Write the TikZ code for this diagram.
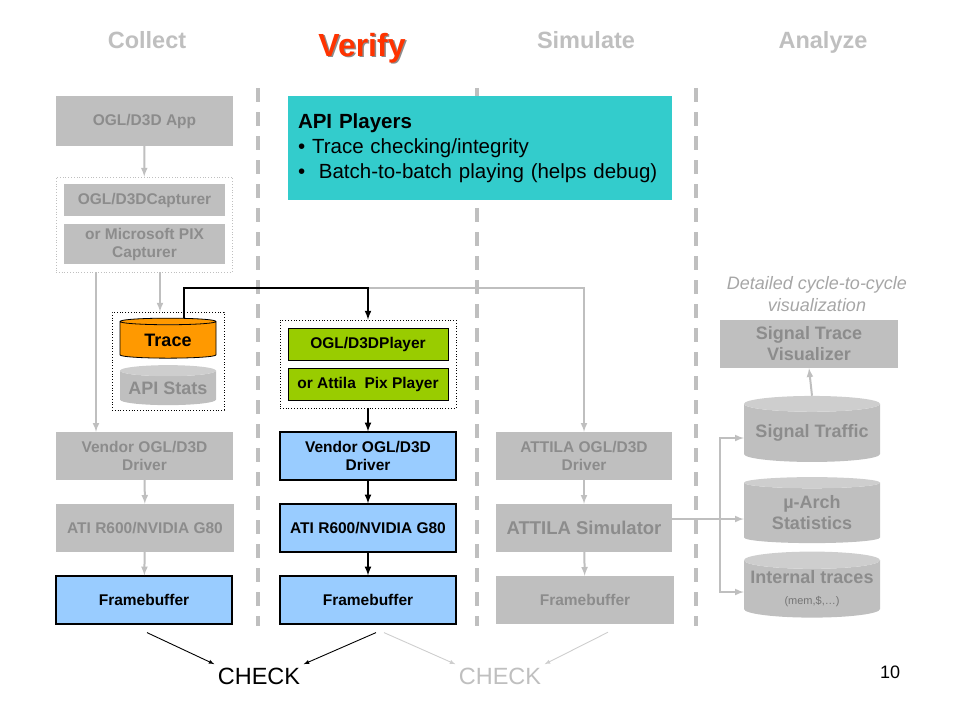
\documentclass[tikz,border=0pt]{standalone}
\usepackage{fontspec}
\setmainfont{Liberation Sans}
\usetikzlibrary{arrows,calc,positioning,shapes.geometric}
\definecolor{boxgrey}{RGB}{191,191,191}
\definecolor{endgrey}{RGB}{206,206,206}
\definecolor{txtgrey}{RGB}{140,140,140}
\definecolor{linegrey}{RGB}{191,191,191}
\definecolor{notegrey}{RGB}{166,166,166}
\definecolor{ogreen}{RGB}{153,204,0}
\definecolor{lblue}{RGB}{153,204,255}
\definecolor{tealbox}{RGB}{51,204,204}
\definecolor{tracefill}{RGB}{255,153,0}
\definecolor{verifyred}{RGB}{255,51,0}
\tikzset{%
	stage/.style    = {rectangle, minimum width=176, minimum height=48, inner sep=2, align=center, font=\bfseries\fontsize{15.5}{18}\selectfont},
	greybox/.style  = {stage, fill=boxgrey, text=txtgrey},
	bluebox/.style  = {stage, fill=lblue, draw=black, line width=1.2},
	greenbox/.style = {stage, fill=ogreen, draw=black, line width=0.8, minimum width=160, minimum height=32},
	dotbox/.style   = {rectangle, draw=black, dotted, line width=0.8, inner sep=0},
	drum/.style     = {cylinder, shape border rotate=90, aspect=0.14, inner sep=0, align=center, cylinder uses custom fill, cylinder body fill=boxgrey, cylinder end fill=endgrey, text=txtgrey, font=\bfseries\fontsize{18}{21}\selectfont},
	header/.style   = {anchor=base, text=boxgrey, font=\bfseries\fontsize{23.5}{26}\selectfont},
	sep/.style      = {draw=linegrey, line width=4, dash pattern=on 14 off 10},
	greyarrow/.style  = {draw=linegrey, line width=2, -latex},
	blackarrow/.style = {draw=black, line width=2, -latex},
	checkarrow/.style = {line width=0.9, -latex},
}
\begin{document}
\begin{tikzpicture}[x=1pt,y=1pt]
	\useasboundingbox (0,0) rectangle (960,-720);
	
	% column separators
	\foreach \x in {258,477,696}
		\draw[sep] (\x,-88) -- (\x,-626);
	
	% headers
	\node[header] (hcollect) at (147,-48) {Collect};
	\node[anchor=base, text=black!45, font=\bfseries\fontsize{32}{36}\selectfont] (hverifyshadow) at (363.5,-57.5) {Verify};
	\node[anchor=base, text=verifyred, font=\bfseries\fontsize{32}{36}\selectfont] (hverify) at (362,-56) {Verify};
	\node[header] (hsimulate) at (586,-48) {Simulate};
	\node[header] (hanalyze) at (823,-48) {Analyze};
	
	% Collect
	\node[greybox, minimum width=177, minimum height=50] (app) at (144.5,-121) {OGL/D3D App};
	\node[dotbox, draw=boxgrey, minimum width=176, minimum height=95] (capbox) at (144,-224.5) {};
	\node[greybox, minimum width=161, minimum height=32] (capogl) at (144.5,-200) {OGL/D3DCapturer};
	\node[greybox, minimum width=161, minimum height=40] (cappix) at (144.5,-244) {or Microsoft PIX\\Capturer};
	\node[dotbox, minimum width=112, minimum height=98] (tracebox) at (168,-361) {};
	\node[drum, draw=black, line width=0.8, cylinder body fill=tracefill, cylinder end fill=tracefill, text=black, minimum width=96, minimum height=40] (trace) at (168,-340) {Trace};
	\node[drum, minimum width=96, minimum height=40] (apistats) at (168,-388) {API Stats};
	\node[greybox, minimum width=177] (cvendor) at (144.5,-456) {Vendor OGL/D3D\\Driver};
	\node[greybox, minimum width=178] (cati) at (145,-528) {ATI R600/NVIDIA G80};
	\node[bluebox] (cfb) at (144,-600) {Framebuffer};
	
	\draw[greyarrow] (app) -- (capbox);
	\draw[greyarrow] ([xshift=16]capbox.south) -- ([xshift=-8]tracebox.north);
	\draw[greyarrow] ([xshift=-48]capbox.south) -- ([xshift=-48]capbox.south |- cvendor.north);
	\draw[greyarrow] (cvendor) -- (cati);
	\draw[greyarrow] (cati) -- (cfb);
	
	% Verify
	\node[fill=tealbox, minimum width=384, minimum height=104, text width=364, inner xsep=10, inner ysep=4, align=left, font=\fontsize{20.5}{25}\selectfont] (players) at (480,-148)
		{\textbf{API Players}\\• Trace checking/integrity\\•\ \ Batch-to-batch playing (helps debug)};
	\node[dotbox, minimum width=176, minimum height=88] (playbox) at (368,-364) {};
	\node[greenbox] (playogl) at (368,-344) {OGL/D3DPlayer};
	\node[greenbox] (playpix) at (368,-384) {or Attila\ \ Pix Player};
	\node[bluebox] (vvendor) at (368,-456) {Vendor OGL/D3D\\Driver};
	\node[bluebox] (vati) at (368,-528) {ATI R600/NVIDIA G80};
	\node[bluebox] (vfb) at (368,-600) {Framebuffer};
	
	% Simulate
	\node[greybox] (sdriver) at (584,-456) {ATTILA OGL/D3D\\Driver};
	\node[greybox, font=\bfseries\fontsize{18.5}{21}\selectfont] (ssim) at (584,-528) {ATTILA Simulator};
	\node[greybox, minimum width=178] (sfb) at (585,-600) {Framebuffer};
	
	\draw[greyarrow] ([yshift=32]playbox.north) -| (sdriver.north);
	\draw[blackarrow] ([xshift=16]trace.north) |- ([yshift=32]playbox.north) -- (playbox.north);
	\draw[blackarrow] (playbox) -- (vvendor);
	\draw[blackarrow] (vvendor) -- (vati);
	\draw[blackarrow] (vati) -- (vfb);
	\draw[greyarrow] (sdriver) -- (ssim);
	\draw[greyarrow] (ssim) -- (sfb);
	
	% Analyze
	\node[text=notegrey, align=center, font=\itshape\fontsize{18}{22}\selectfont] (note) at (817,-294) {Detailed cycle-to-cycle\\visualization};
	\node[greybox, minimum width=178, font=\bfseries\fontsize{18}{21}\selectfont] (stv) at (809,-344) {Signal Trace\\Visualizer};
	\node[drum, minimum width=136, minimum height=66] (straffic) at (812,-433) {Signal Traffic};
	\node[drum, minimum width=136, minimum height=66] (sarch) at (812,-513) {µ-Arch\\Statistics};
	\node[drum, minimum width=136, minimum height=66] (sinternal) at (812,-589) {Internal traces\\{\mdseries\color{txtgrey!120}\fontsize{11}{13}\selectfont (mem,\$,…)}};
	
	\coordinate (split) at (720,-519);
	\draw[draw=linegrey, line width=2] ([yshift=9]ssim.east) -- (split);
	\draw[greyarrow] (split) -- (split -| sarch.west);
	\draw[greyarrow] (split) |- ([yshift=-5]straffic.west);
	\draw[greyarrow] (split) |- ([yshift=-3]sinternal.west);
	\draw[greyarrow] (straffic.north) -- (stv.south);
	
	% checks
	\node[font=\fontsize{23.5}{26}\selectfont] (check1) at (259,-676) {CHECK};
	\node[text=boxgrey, font=\fontsize{23.5}{26}\selectfont] (check2) at (500,-676) {CHECK};
	\draw[checkarrow] ([xshift=3,yshift=-8]cfb.south) -- (check1.north west);
	\draw[checkarrow] ([xshift=8,yshift=-8]vfb.south) -- (check1.north east);
	\draw[checkarrow, draw=endgrey] ([xshift=16,yshift=-8]vfb.south) -- (check2.north west);
	\draw[checkarrow, draw=endgrey] ([xshift=23,yshift=-8]sfb.south) -- (check2.north east);
	
	\node[font=\fontsize{18}{20}\selectfont] (pagenum) at (890,-672) {10};
\end{tikzpicture}
\end{document}
